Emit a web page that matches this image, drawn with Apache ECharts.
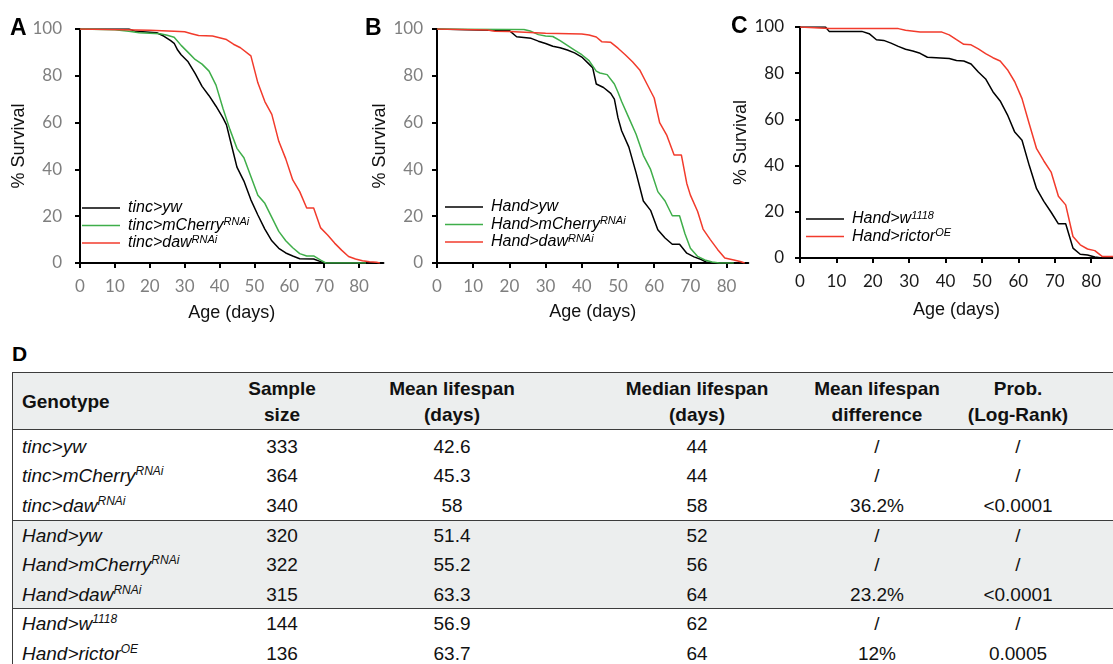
<!DOCTYPE html>
<html>
<head>
<meta charset="utf-8">
<script src="https://cdn.jsdelivr.net/npm/echarts@6/dist/echarts.min.js"></script>
<style>
  body { margin: 0; background: #fff; width: 1113px; height: 664px; overflow: hidden; position: relative; font-family: "Liberation Sans", Arial, sans-serif; }
  #chart { position: absolute; left: 0; top: 0; width: 1113px; height: 340px; }
  #panelD { position: absolute; left: 12px; top: 342px; font: bold 21px "Liberation Sans", Arial, sans-serif; }
  .band { position: absolute; left: 12px; width: 1110px; background: #eceeee; }
  .hline { position: absolute; left: 12px; width: 1110px; height: 0; border-top: 1.5px solid #3c3c3c; }
  .vline { position: absolute; left: 12px; top: 372px; width: 0; height: 300px; border-left: 1.5px solid #3c3c3c; }
  .cell { position: absolute; font-size: 19px; line-height: 22px; color: #111; white-space: nowrap; }
  .cell.c { transform: translateX(-50%); text-align: center; }
  .head { font-weight: bold; line-height: 26px; }
  .cell i sup { font-size: 12px; vertical-align: 7px; line-height: 0; }
</style>
</head>
<body>
<div id="chart"></div>
<div id="panelD">D</div>
<div id="table"></div>

<script>
// survival curves, [age in days, % survival]
const tincYw = [[0,100],[14,100],[16,99],[20,98.6],[22,98.4],[24,97],[26,95],[27,93.9],[28,91],[29,89],[31,86],[33,81],[35,75.5],[37,71.5],[39,67],[41,62],[42,59],[43,53],[44,47],[45,41],[47,35],[49,27],[51,20.5],[53,14.5],[55,9.5],[57,6.3],[59,4.3],[61,3],[63,1.8],[67,1.7],[69,0.6],[70,0],[72,0]];
const tincMcherry = [[0,100],[10,99.7],[14,99],[17,98.4],[23,98],[25,97.3],[27,96.5],[29,93],[31,90],[33,87],[35,85],[37,82],[39,76],[41,66],[43,57],[45,49],[47,45],[49,37],[51,29],[53,25.5],[55,19.5],[57,13.5],[59,9.5],[61,6.5],[63,4],[65,3],[67,3],[69,1.2],[70.5,0],[82,0]];
const tincDaw = [[0,100],[20,99.5],[27,99],[30,98.8],[32,98],[34,97.2],[38,97],[40,96.3],[42,95.5],[44,93.5],[46,92],[49,88.5],[51,77],[53,69],[55,63.5],[57,52],[59,44.5],[61,35.5],[63,30.5],[65,23.5],[67,23.5],[69,15],[71,12],[73,8.5],[75,5.5],[77,2.8],[79,1.7],[81,1],[83,0.5],[85,0.3],[86,0]];

const handYw = [[0,100],[20,99.3],[22,96.7],[24,96.4],[26,96],[28,94.8],[30,93.8],[32,92.6],[34,92],[36,91],[38,89.8],[40,88],[42,85],[43,83.5],[44,76.5],[46,75],[48,72.5],[49,70],[50,62],[51,56.5],[53,49.5],[55,38.5],[57,26.5],[59,22.5],[61,14.2],[63,10.7],[65,8],[67,8],[69,4.2],[71,2.6],[73,1.5],[74.5,0.3],[76,0],[80,0]];
const handMcherry = [[0,100],[24,99.8],[26,99],[28,97.6],[30,97],[32,96.8],[34,95],[36,93],[38,91],[40,89],[42,86.5],[44,82],[45,81.2],[47,80.5],[49,76.5],[50,73],[51,69],[53,62],[55,55],[57,46],[59,40],[61,30.5],[63,26.5],[65,20.2],[67,20.2],[68.5,12.5],[70,6.3],[72,2.8],[74,1.3],[76,0.4],[78,0],[82,0]];
const handDaw = [[0,100],[14,99.6],[16,99],[20,98.9],[30,98.2],[40,97.9],[42,97.4],[44,96.6],[45.5,94.6],[48,94.3],[50,91.8],[52,89],[54,86],[56,82.5],[58,76.5],[60,70.5],[61.5,60],[63.5,54.5],[65.5,46.2],[67.5,46.2],[69,34],[70,29],[72,22],[73.5,14.5],[75.5,10],[77.5,5.8],[79.5,2.1],[82,1.3],[84,0.5],[85,0]];

const handW1118 = [[0,100],[7,100],[8,98.1],[17,98.1],[19,97.1],[21,94.5],[23,94.2],[25,93],[27,91.6],[29,90.4],[31,89.6],[33,88.6],[35,86.9],[41,86.4],[43,85.5],[45,85.3],[47,84],[49,80.5],[51,77.5],[53,72],[55,68],[57,62],[59,54.5],[61,51],[63,40],[65,30],[67,24.5],[69,19.8],[71,14.8],[73,14.8],[75,4.3],[77,1.6],[79,1.3],[81,0.4],[83,0]];
const handRictor = [[0,100],[8,99.3],[27,99.3],[29,98.6],[33,97.8],[39,97.8],[41,96.6],[43,94.5],[45,92.5],[47,92.3],[49,90.5],[51,88.5],[53,86.7],[55,85.3],[57,81.5],[59,76.3],[61,69],[63,58],[65,47.3],[67,42],[69,37.2],[71,26.7],[73,23],[75,9.3],[77,5.7],[79,3.9],[81,3.2],[83,0.7],[86,0.7]];

const xTicks = [0, 10, 20, 30, 40, 50, 60, 70, 80];

// table D
const genoBase = ['tinc>yw', 'tinc>mCherry', 'tinc>daw', 'Hand>yw', 'Hand>mCherry', 'Hand>daw', 'Hand>w', 'Hand>rictor'];
const genoSup = ['', 'RNAi', 'RNAi', '', 'RNAi', 'RNAi', '1118', 'OE'];
const sampleSize = ['333', '364', '340', '320', '322', '315', '144', '136'];
const meanLifespan = ['42.6', '45.3', '58', '51.4', '55.2', '63.3', '56.9', '63.7'];
const medianLifespan = ['44', '44', '58', '52', '56', '64', '62', '64'];
const meanDiff = ['/', '/', '36.2%', '/', '/', '23.2%', '/', '12%'];
const probLogRank = ['/', '/', '<0.0001', '/', '/', '<0.0001', '/', '0.0005'];

const BLACK = '#000000', GREEN = '#3fae4a', RED = '#f23b2c';

// superscript part of each legend entry
const supOf = {
  'tinc>mCherry': 'RNAi', 'tinc>daw': 'RNAi',
  'Hand>mCherry': 'RNAi', 'Hand>daw': 'RNAi',
  'Hand>w': '1118', 'Hand>rictor': 'OE'
};

const chart = echarts.init(document.getElementById('chart'));

const panels = [
  { letter: 'A', left: 80, top: 29, max: 87, pxDay: 3.4875, height: 234, tickColor: '#7f7f7f', yMargin: 18, nameGap: 51, xNameGap: 41,
    legendLeft: 82, legendTop: 200,
    series: [['tinc>yw', tincYw, BLACK], ['tinc>mCherry', tincMcherry, GREEN], ['tinc>daw', tincDaw, RED]] },
  { letter: 'B', left: 437, top: 29, max: 86, pxDay: 3.62, height: 234, tickColor: '#7f7f7f', yMargin: 14, nameGap: 45, xNameGap: 40,
    legendLeft: 445, legendTop: 199,
    series: [['Hand>yw', handYw, BLACK], ['Hand>mCherry', handMcherry, GREEN], ['Hand>daw', handDaw, RED]] },
  { letter: 'C', left: 800, top: 27, max: 86, pxDay: 3.667, height: 231, tickColor: '#1a1a1a', yMargin: 16, nameGap: 46, xNameGap: 43,
    legendLeft: 806, legendTop: 210,
    series: [['Hand>w', handW1118, BLACK], ['Hand>rictor', handRictor, RED]] }
];

const option = {
  animation: false,
  grid: [], xAxis: [], yAxis: [], legend: [], series: [], graphic: []
};

panels.forEach((p, i) => {
  option.grid.push({ left: p.left, top: p.top, width: p.max * p.pxDay, height: p.height, containLabel: false });
  option.xAxis.push({
    type: 'value', gridIndex: i, min: 0, max: p.max,
    name: 'Age (days)', nameLocation: 'middle', nameGap: p.xNameGap,
    nameTextStyle: { fontFamily: 'Liberation Sans', fontSize: 18, color: '#111' },
    axisLine: { show: true, lineStyle: { color: '#000', width: 2 } },
    axisTick: { show: true, length: 5, lineStyle: { color: '#000', width: 2 }, customValues: xTicks },
    axisLabel: { color: p.tickColor, fontFamily: 'Lato', fontSize: 17, margin: 15, customValues: xTicks },
    splitLine: { show: false }
  });
  option.yAxis.push({
    type: 'value', gridIndex: i, min: 0, max: 100, interval: 20,
    name: '% Survival', nameLocation: 'middle', nameGap: p.nameGap,
    nameTextStyle: { fontFamily: 'Liberation Sans', fontSize: 18, color: '#111' },
    axisLine: { show: true, lineStyle: { color: '#000', width: 2 } },
    axisTick: { show: true, length: 5, lineStyle: { color: '#000', width: 2 } },
    axisLabel: { color: p.tickColor, fontFamily: 'Lato', fontSize: 17, margin: p.yMargin },
    splitLine: { show: false }
  });
  option.legend.push({
    data: p.series.map(s => s[0]),
    orient: 'vertical', left: p.legendLeft, top: p.legendTop, padding: 0,
    icon: 'rect', itemWidth: 38, itemHeight: 1.5, itemGap: 0.5,
    selectedMode: false,
    formatter: name => supOf[name] ? '{b|' + name + '}{s|' + supOf[name] + '}' : '{b|' + name + '}',
    textStyle: {
      rich: {
        b: { fontFamily: 'Liberation Sans', fontStyle: 'italic', fontSize: 16, lineHeight: 18, color: '#000', padding: [0, 0, 0, 3] },
        s: { fontFamily: 'Liberation Sans', fontStyle: 'italic', fontSize: 11, lineHeight: 11, color: '#000', verticalAlign: 'top' }
      }
    }
  });
  p.series.forEach(s => {
    option.series.push({
      name: s[0], type: 'line', xAxisIndex: i, yAxisIndex: i,
      data: s[1], showSymbol: false, symbol: 'none',
      color: s[2], lineStyle: { color: s[2], width: 1.5 }
    });
  });
});

option.graphic = [
  { type: 'text', left: 10, top: 17, style: { text: 'A', font: 'bold 23px "Liberation Sans"', fill: '#000' } },
  { type: 'text', left: 365, top: 17, style: { text: 'B', font: 'bold 23px "Liberation Sans"', fill: '#000' } },
  { type: 'text', left: 731, top: 15, style: { text: 'C', font: 'bold 23px "Liberation Sans"', fill: '#000' } }
];

chart.setOption(option);

// table D drawn as positioned text
const tbl = document.getElementById('table');
function add(html, cls, left, top) {
  const d = document.createElement('div');
  d.className = cls;
  d.style.left = left + 'px';
  d.style.top = top + 'px';
  d.innerHTML = html;
  tbl.appendChild(d);
  return d;
}
function esc(t) { return t.replace(/&/g, '&amp;').replace(/</g, '&lt;').replace(/>/g, '&gt;'); }

add('', 'band', 12, 372).style.height = '57px';
add('', 'band', 12, 520).style.height = '88px';
[372, 429, 520, 608].forEach(y => add('', 'hline', 12, y));
add('', 'vline', 12, 372);

const colX = [282, 452, 697, 877, 1018];
const headers = ['Sample<br>size', 'Mean lifespan<br>(days)', 'Median lifespan<br>(days)', 'Mean lifespan<br>difference', 'Prob.<br>(Log-Rank)'];
add('Genotype', 'cell head', 22, 389);
headers.forEach((h, j) => add(h, 'cell c head', colX[j], 376));

genoBase.forEach((g, r) => {
  const top = 446.7 + 29.6 * r - 11;
  const sup = genoSup[r] ? '<sup>' + genoSup[r] + '</sup>' : '';
  add('<i>' + esc(g) + sup + '</i>', 'cell', 22, top);
  [sampleSize[r], meanLifespan[r], medianLifespan[r], meanDiff[r], probLogRank[r]]
    .forEach((v, j) => add(esc(v), 'cell c', colX[j], top));
});
</script>
</body>
</html>
